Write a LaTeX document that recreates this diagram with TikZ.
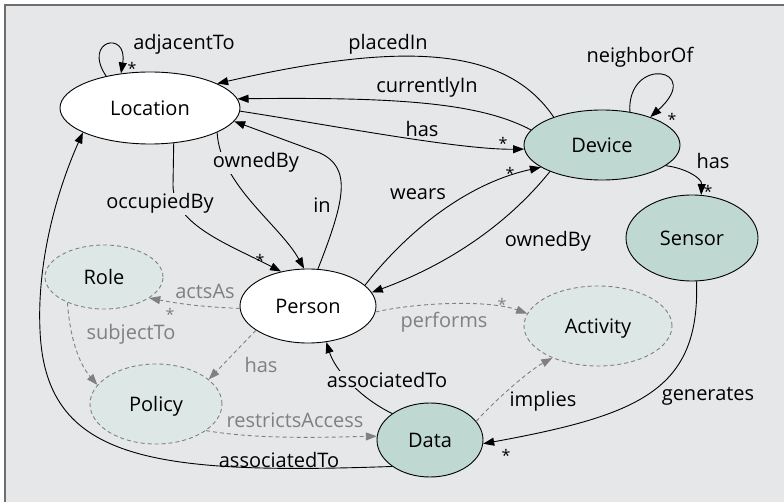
\documentclass[tikz,border=0pt]{standalone}
\usepackage{fontspec}
\setmainfont{Open Sans}
\usetikzlibrary{arrows.meta,shapes.geometric}
\definecolor{bgc}{RGB}{230,231,233}
\definecolor{tealfill}{RGB}{191,216,210}
\definecolor{lightfill}{RGB}{221,232,230}
\definecolor{dgray}{RGB}{128,128,128}
\definecolor{framec}{RGB}{110,110,110}
\begin{document}
\begin{tikzpicture}[x=1pt,y=-1pt,
  font=\fontsize{20}{24}\selectfont,
  ent/.style={ellipse,draw=black,line width=0.9pt,inner sep=0pt,text depth=0pt},
  wnode/.style={ent,fill=white},
  tnode/.style={ent,fill=tealfill},
  lnode/.style={ent,fill=lightfill,draw=dgray,dash pattern=on 4pt off 3pt},
  conn/.style={draw=black,line width=0.9pt,-{Triangle[length=11pt,width=8pt]}},
  dconn/.style={draw=dgray,line width=0.9pt,dash pattern=on 4pt off 3pt,-{Triangle[length=11pt,width=8pt]}},
  lbl/.style={anchor=base,inner sep=1pt},
  glbl/.style={lbl,text=dgray},
  flbl/.style={lbl,fill=bgc},
  star/.style={anchor=base,inner sep=0pt,font=\fontsize{16}{18}\selectfont},
  gstar/.style={star,text=dgray},
]
\useasboundingbox (0,0) rectangle (784,502);
\fill[white] (0,0) rectangle (784,502);
\fill[bgc] (5,5) rectangle (784,502);
\draw[framec,line width=1.6pt] (5,502) -- (5,5) -- (784,5);

% nodes
\node[wnode,minimum width=180pt,minimum height=72pt] (loc) at (150,108) {Location};
\node[tnode,minimum width=156pt,minimum height=70pt] (dev) at (602,145) {Device};
\node[tnode,minimum width=132pt,minimum height=86pt] (sen) at (692,238) {Sensor};
\node[wnode,minimum width=136pt,minimum height=74pt] (per) at (308,306) {Person};
\node[lnode,minimum width=118pt,minimum height=64pt] (rol) at (104,277) {Role};
\node[lnode,minimum width=132pt,minimum height=80pt] (pol) at (156,404) {Policy};
\node[lnode,minimum width=148pt,minimum height=80pt] (act) at (598,326) {Activity};
\node[tnode,minimum width=106pt,minimum height=74pt] (dat) at (430,440) {Data};

% solid connectors
\draw[conn] (loc.144) .. controls (82,40) and (128,30) .. (loc.130);
\draw[conn] (dev.150) .. controls (505,45) and (400,42) .. (loc.20);
\draw[conn] (dev.168) .. controls (480,103) and (400,97) .. (loc.6);
\draw[conn] (loc.-2) .. controls (330,125) and (460,150) .. (dev.183);
\draw[conn] (per.20) .. controls (400,240) and (460,185) .. (dev.200);
\draw[conn] (dev.207) .. controls (515,215) and (460,260) .. (per.12);
\draw[conn] (loc.-56) -- (173,185) .. controls (173,225) and (230,245) .. (per.128);
\draw[conn] (loc.-20) .. controls (220,185) and (280,225) .. (per.96);
\draw[conn] (per.75) .. controls (345,200) and (352,168) .. (320,153) -- (loc.-9);
\draw[conn] (dat.145) .. controls (360,398) and (335,370) .. (per.-63);
\draw[conn] (dat.-145) .. controls (150,475) and (45,460) .. (40,330) .. controls (37,265) and (55,195) .. (loc.-160);
\draw[conn] (sen.-84) .. controls (700,390) and (640,415) .. (dat.-4);
\draw[conn] (dev.-18) .. controls (685,168) and (702,178) .. (sen.78);
\draw[conn] (dev.50) .. controls (627,55) and (705,68) .. (dev.30);

% dashed connectors
\draw[dconn] (per.182) .. controls (200,307) and (175,303) .. (rol.-25);
\draw[dconn] (rol.-145) .. controls (70,340) and (80,365) .. (pol.162);
\draw[dconn] (per.-155) -- (pol.25);
\draw[dconn] (pol.-28) .. controls (260,440) and (330,437) .. (dat.176);
\draw[dconn] (per.-5) .. controls (420,302) and (490,300) .. (act.170);
\draw[dconn] (dat.22) .. controls (495,400) and (530,370) .. (act.-145);

% labels
\node[lbl] (l1) at (184,50) {adjacentTo};
\node[lbl] (l2) at (388,50) {placedIn};
\node[lbl] (l3) at (427,93) {currentlyIn};
\node[lbl] (l4) at (422,137) {has};
\node[lbl] (l5) at (640,63) {neighborOf};
\node[lbl] (l6) at (713,169) {has};
\node[lbl] (l7) at (418,200) {wears};
\node[lbl] (l8) at (548,247) {ownedBy};
\node[flbl] (l9) at (160,209) {occupiedBy};
\node[flbl] (l10) at (256,168) {ownedBy};
\node[lbl] (l11) at (322,213) {in};
\node[glbl] (l12) at (205,299) {actsAs};
\node[glbl] (l13) at (131,340) {subjectTo};
\node[glbl] (l14) at (261,372) {has};
\node[glbl] (l15) at (295,427) {restrictsAccess};
\node[glbl] (l16) at (444,327) {performs};
\node[lbl] (l17) at (543,406) {implies};
\node[flbl] (l18) at (387,387) {associatedTo};
\node[lbl] (l19) at (279,467) {associatedTo};
\node[lbl] (l20) at (708,400) {generates};

% multiplicity stars
\node[star] (s1) at (132,75) {*};
\node[star] (s2) at (503,150) {*};
\node[star] (s3) at (510,180) {*};
\node[star] (s4) at (260,267) {*};
\node[gstar] (s5) at (170,321) {*};
\node[gstar] (s6) at (502,311) {*};
\node[star] (s7) at (708,198) {*};
\node[star] (s8) at (672,126) {*};
\node[star] (s9) at (506,461) {*};
\end{tikzpicture}
\end{document}
